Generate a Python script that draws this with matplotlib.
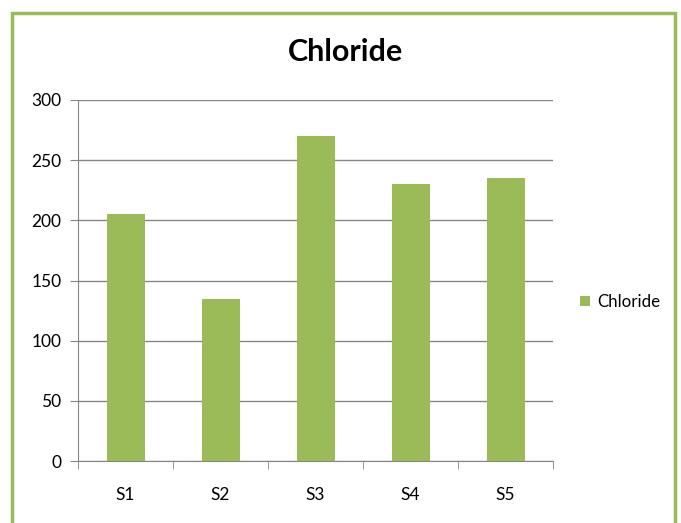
import matplotlib.pyplot as plt
from matplotlib.patches import Rectangle

# data
samples = ['S1', 'S2', 'S3', 'S4', 'S5']
chloride = [205, 135, 270, 230, 235]

plt.rcParams['font.family'] = ['Lato', 'DejaVu Sans']

green = '#9BBB59'
grid_c = '#868686'

fig = plt.figure(figsize=(6.81, 5.23), dpi=100)
ax = fig.add_axes([78 / 681, 1 - 461 / 523, (553 - 78) / 681, (461 - 100) / 523])

x = range(len(samples))
ax.bar(x, chloride, width=0.4, color=green, label='Chloride', zorder=3)

ax.set_xlim(-0.5, len(samples) - 0.5)
ax.set_ylim(0, 300)
ax.set_yticks(range(0, 301, 50))
ax.set_xticks(list(x))
ax.set_xticklabels(samples, fontsize=12.5)
ax.set_xticks([i - 0.5 for i in range(len(samples) + 1)], minor=True)
ax.tick_params(axis='x', which='major', length=0, pad=19)
ax.tick_params(axis='x', which='minor', length=6, color=grid_c, direction='out')
ax.tick_params(axis='y', length=6, color=grid_c, labelsize=12.5, pad=6)
ax.yaxis.grid(True, color=grid_c, linewidth=1, zorder=0)

for s in ['top', 'right']:
    ax.spines[s].set_visible(False)
ax.spines['left'].set_color(grid_c)
ax.spines['bottom'].set_color(grid_c)

fig.text(345 / 681, 1 - 52 / 523, 'Chloride', fontsize=22, fontweight='bold',
         ha='center', va='center')

leg = fig.legend(loc='center left', bbox_to_anchor=(565 / 681, 1 - 302 / 523),
                 frameon=False, fontsize=12.2, handlelength=0.6, handleheight=0.6,
                 handletextpad=0.4)

# green outer border
fig.patches.append(Rectangle((11.5 / 681, -0.05), (675 - 11.5) / 681, 1 - 13 / 523 + 0.05,
                             transform=fig.transFigure, fill=False,
                             edgecolor=green, linewidth=2.5))

plt.savefig('out.png', dpi=100)
